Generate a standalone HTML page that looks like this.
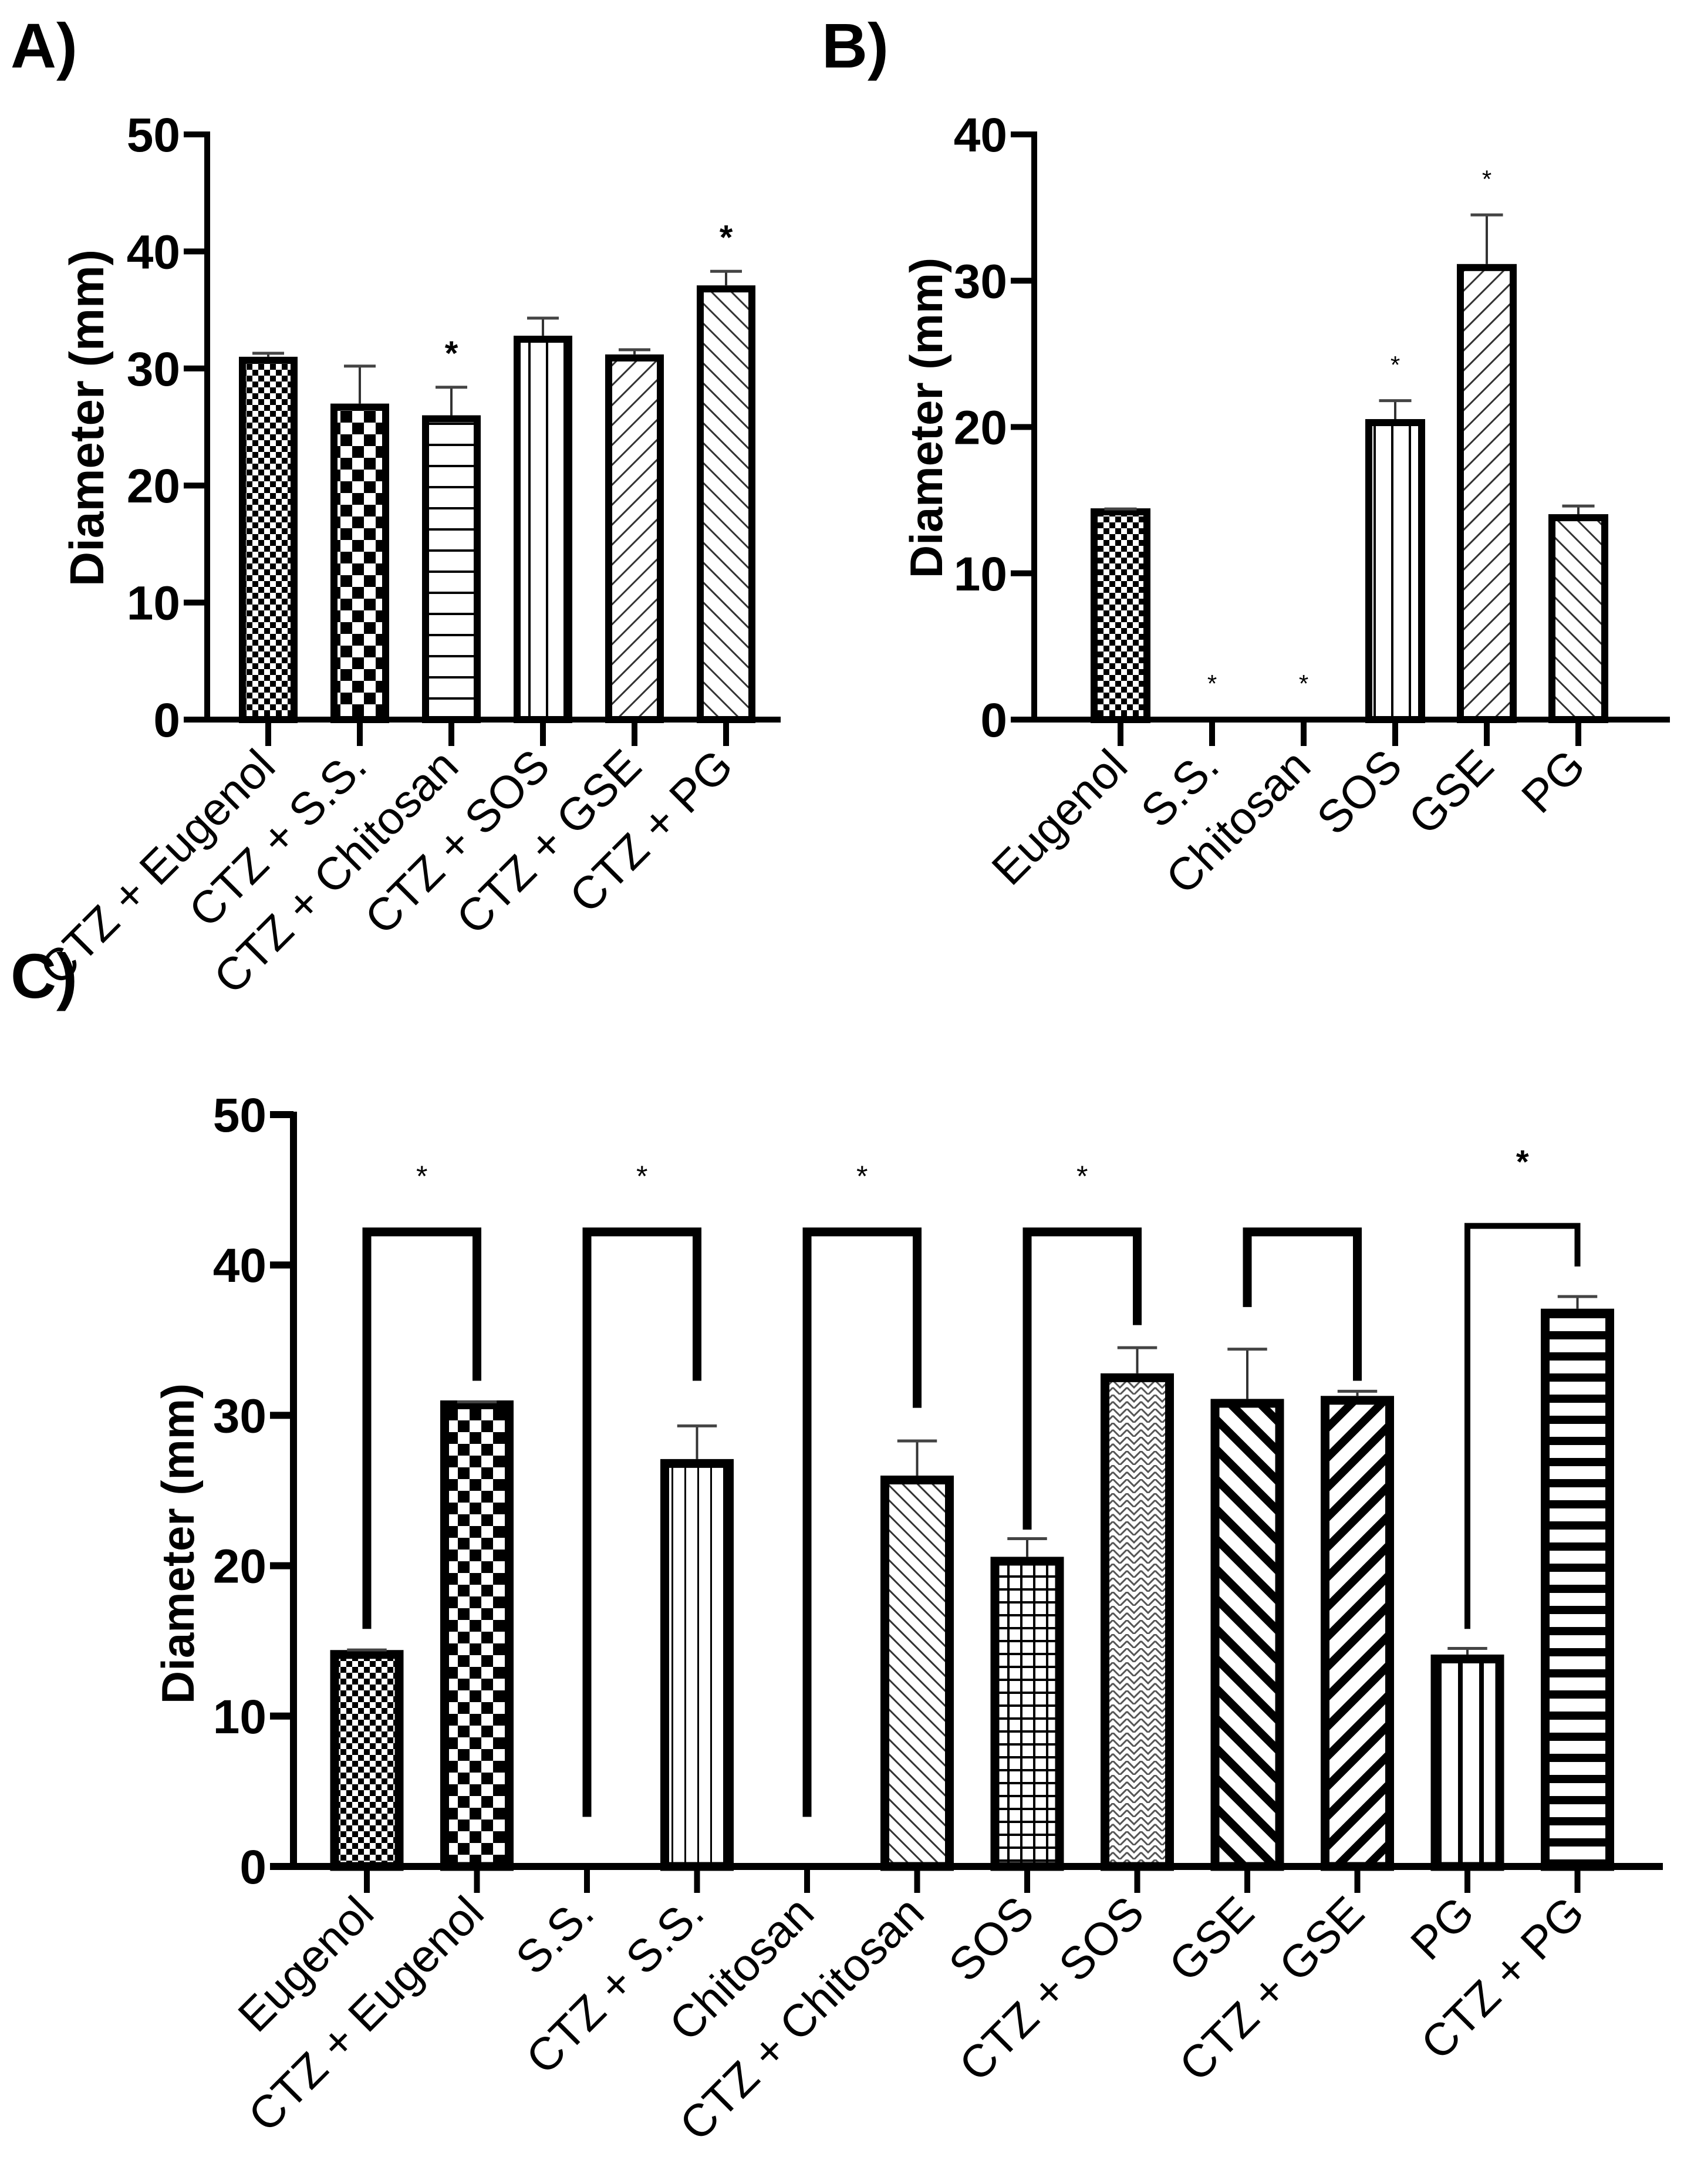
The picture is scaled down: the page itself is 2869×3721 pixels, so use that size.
<!DOCTYPE html>
<html><head><meta charset="utf-8"><style>
html,body{margin:0;padding:0;background:#fff;}
svg{display:block;}
text{font-family:"Liberation Sans",Arial,sans-serif;}
</style></head><body>
<svg id="fig" width="2869" height="3721" viewBox="0 0 2869 3721" xmlns="http://www.w3.org/2000/svg">
<defs>
  <pattern id="pFineCheck" patternUnits="userSpaceOnUse" width="20" height="20"><rect width="20" height="20" fill="#fff"/><rect width="10" height="10" fill="#000"/><rect x="10" y="10" width="10" height="10" fill="#000"/></pattern>
  <pattern id="pCoarseCheck" patternUnits="userSpaceOnUse" width="40" height="40"><rect width="40" height="40" fill="#fff"/><rect width="20" height="20" fill="#000"/><rect x="20" y="20" width="20" height="20" fill="#000"/></pattern>
  <pattern id="pHoriz" patternUnits="userSpaceOnUse" width="20" height="36"><rect width="20" height="36" fill="#fff"/><rect y="0" width="20" height="4" fill="#000"/></pattern>
  <pattern id="pVert" patternUnits="userSpaceOnUse" width="30" height="20"><rect width="30" height="20" fill="#fff"/><rect x="0" width="4" height="20" fill="#000"/></pattern>
  <pattern id="pVertThin" patternUnits="userSpaceOnUse" width="22" height="20"><rect width="22" height="20" fill="#fff"/><rect x="0" width="3" height="20" fill="#000"/></pattern>
  <pattern id="pDiagR" patternUnits="userSpaceOnUse" width="24" height="24" patternTransform="rotate(45)"><rect width="24" height="24" fill="#fff"/><rect width="3" height="24" fill="#333"/></pattern>
  <pattern id="pDiagL" patternUnits="userSpaceOnUse" width="24" height="24" patternTransform="rotate(-45)"><rect width="24" height="24" fill="#fff"/><rect width="3" height="24" fill="#333"/></pattern>
  <pattern id="pDiagLDense" patternUnits="userSpaceOnUse" width="18" height="18" patternTransform="rotate(-45)"><rect width="18" height="18" fill="#fff"/><rect width="3" height="18" fill="#333"/></pattern>
  <pattern id="pGrid" patternUnits="userSpaceOnUse" width="22" height="22"><rect width="22" height="22" fill="#fff"/><rect width="4" height="22" fill="#000"/><rect width="22" height="4" fill="#000"/></pattern>
  <pattern id="pZig" patternUnits="userSpaceOnUse" width="24" height="24"><rect width="24" height="24" fill="#fff"/><path d="M0 0 L12 12 L24 0 M0 12 L12 24 L24 12" stroke="#555" stroke-width="3" fill="none"/></pattern>
  <pattern id="pThickL" patternUnits="userSpaceOnUse" width="36" height="36" patternTransform="rotate(-45)"><rect width="36" height="36" fill="#fff"/><rect width="14" height="36" fill="#000"/></pattern>
  <pattern id="pThickR" patternUnits="userSpaceOnUse" width="36" height="36" patternTransform="rotate(45)"><rect width="36" height="36" fill="#fff"/><rect width="14" height="36" fill="#000"/></pattern>
  <pattern id="pVertThick" patternUnits="userSpaceOnUse" width="36" height="20"><rect width="36" height="20" fill="#fff"/><rect x="0" width="8" height="20" fill="#000"/></pattern>
  <pattern id="pHorizThick" patternUnits="userSpaceOnUse" width="20" height="36"><rect width="20" height="36" fill="#fff"/><rect y="0" width="20" height="14" fill="#000"/></pattern>
</defs>
<g id="root"></g>
</svg>
<script>
// ---- Panel A data ----
const catsA = ["CTZ + Eugenol","CTZ + S.S.","CTZ + Chitosan","CTZ + SOS","CTZ + GSE","CTZ + PG"];
const valsA = [30.7, 26.7, 25.7, 32.5, 30.9, 36.8];
const errA = [31.3, 30.2, 28.4, 34.3, 31.6, 38.3];
const starA = [false, false, true, false, false, true];
const ticksA = [0,10,20,30,40,50];
// ---- Panel B data ----
const catsB = ["Eugenol","S.S.","Chitosan","SOS","GSE","PG"];
const valsB = [14.2, 0, 0, 20.3, 30.9, 13.8];
const errB = [14.4, 0, 0, 21.8, 34.5, 14.6];
const starB = [false, true, true, true, true, false];
const ticksB = [0,10,20,30,40];
// ---- Panel C data ----
const catsC = ["Eugenol","CTZ + Eugenol","S.S.","CTZ + S.S.","Chitosan","CTZ + Chitosan","SOS","CTZ + SOS","GSE","CTZ + GSE","PG","CTZ + PG"];
const valsC = [14.1, 30.7, 0, 26.8, 0, 25.7, 20.3, 32.5, 30.8, 31.0, 13.8, 36.8];
const errC = [14.4, 30.9, 0, 29.3, 0, 28.3, 21.8, 34.5, 34.4, 31.6, 14.5, 37.9];
const ticksC = [0,10,20,30,40,50];
const bracketLeftC = [15.8, 3.3, 3.3, 22.4, 37.2, 15.8];
const bracketRightC = [32.3, 32.3, 30.5, 36.0, 32.3, 39.9];
const bracketTopC = [42.2, 42.2, 42.2, 42.2, 42.2, 42.6];
const bracketStarC = [true, true, true, true, false, true];

const NS = "http://www.w3.org/2000/svg";
const root = document.getElementById('root');
function mk(tag, attrs, parent){ const e=document.createElementNS(NS,tag); for(const k in attrs) e.setAttribute(k,attrs[k]); (parent||root).appendChild(e); return e; }

function panel(o){
  const g = mk('g',{});
  
  
  const y = v => o.y0 - (v/o.max)*(o.y0-o.yTop);
  const x = i => o.x0c + i*o.step;
  const ya = mk('line',{x1:o.ax,y1:o.yTop-5,x2:o.ax,y2:o.y0+5,stroke:'#000','stroke-width':o.axw},g);
  
  
  o.ticks.forEach(t=>{
    const tl = mk('line',{x1:o.ax-40,y1:y(t),x2:o.ax,y2:y(t),stroke:'#000','stroke-width':o.axw},g);
    
    
    const tt = mk('text',{x:o.ax-46,y:y(t)+29,'text-anchor':'end','font-size':82,'font-weight':'bold'},g);
    tt.textContent = t;
    
    
  });
  o.vals.forEach((v,i)=>{
    const cx = x(i), w=o.bw, sw=o.bsw;
    if(v>0){
      const r = mk('rect',{x:cx-w/2+sw/2,y:y(v),width:w-sw,height:o.y0-y(v),fill:'url(#'+o.pats[i]+')',stroke:'#000','stroke-width':sw},g);
      
      
      if(o.err[i]>v){
        const el = mk('line',{x1:cx,y1:y(o.err[i]),x2:cx,y2:y(v)-sw/2,stroke:'#333','stroke-width':4},g);
        
        
        const ec = mk('line',{x1:cx-w*0.27,y1:y(o.err[i]),x2:cx+w*0.27,y2:y(o.err[i]),stroke:'#444','stroke-width':5},g);
        
        
      }
    }
    const xt = mk('line',{x1:cx,y1:o.y0,x2:cx,y2:o.y0+45,stroke:'#000','stroke-width':10},g);
    
    
    const lx = cx+16, ly = o.y0+84;
    const lt = mk('text',{x:lx,y:ly,'text-anchor':'end','font-size':o.lfs,transform:'rotate(-45 '+lx+' '+ly+')'},g);
    lt.textContent = o.cats[i];
    
    
    if(o.stars && o.stars[i]){
      const sv = Math.max(o.err[i],0)+ (o.starBold?3.0:2.6);
      const st = mk('text',{x:cx,y:y(sv)+ (o.starBold?22:18),'text-anchor':'middle','font-size':o.starBold?58:42,'font-weight':o.starBold?'bold':'normal'},g);
      st.textContent='*';
      
      
    }
  });
  const xa = mk('line',{x1:o.ax-o.axw/2,y1:o.y0,x2:o.xEnd,y2:o.y0,stroke:'#000','stroke-width':o.axw},g);
  
  
  const yt = mk('text',{x:o.ytx,y:o.yty,'text-anchor':'middle','font-size':o.ytfs,'font-weight':'bold',transform:'rotate(-90 '+o.ytx+' '+o.yty+')'},g);
  yt.textContent='Diameter (mm)';
  
  
  const pl = mk('text',{x:o.plx,y:o.ply,'font-size':108,'font-weight':'bold'},g);
  pl.textContent=o.label;
  
  
  return {g,x,y};
}

panel({name:'panel-a-chart',cats:catsA,vals:valsA,err:errA,stars:starA,starBold:true,ticks:ticksA,max:50,
  ax:353,yTop:229,y0:1226,x0c:457,step:156,bw:100,bsw:12,axw:10,xEnd:1330,lfs:78,ytfs:82,
  pats:['pFineCheck','pCoarseCheck','pHoriz','pVert','pDiagR','pDiagL'],ytx:176,yty:712,plx:18,ply:115,label:'A)'});

panel({name:'panel-b-chart',cats:catsB,vals:valsB,err:errB,stars:starB,starBold:false,ticks:ticksB,max:40,
  ax:1762,yTop:229,y0:1226,x0c:1909,step:156,bw:102,bsw:12,axw:10,xEnd:2845,lfs:78,ytfs:78,
  pats:['pFineCheck','pFineCheck','pFineCheck','pVert','pDiagR','pDiagL'],ytx:1605,yty:712,plx:1400,ply:115,label:'B)'});

const pc = panel({name:'panel-c-chart',cats:catsC,vals:valsC,err:errC,stars:null,ticks:ticksC,max:50,
  ax:500,yTop:1899,y0:3180,x0c:625,step:187.5,bw:125,bsw:15,axw:12,xEnd:2833,lfs:78,ytfs:78,
  pats:['pFineCheck','pCoarseCheck','pFineCheck','pVertThin','pFineCheck','pDiagLDense','pGrid','pZig','pThickL','pThickR','pVertThick','pHorizThick'],
  ytx:330,yty:2630,plx:18,ply:1700,label:'C)'});

bracketTopC.forEach((t,k)=>{
  const xl = pc.x(2*k), xr = pc.x(2*k+1);
  const sw = k===5?10:15;
  const p = mk('path',{d:'M'+xl+' '+pc.y(bracketLeftC[k])+' L'+xl+' '+pc.y(t)+' L'+xr+' '+pc.y(t)+' L'+xr+' '+pc.y(bracketRightC[k]),fill:'none',stroke:'#000','stroke-width':sw},pc.g);
  
  
  if(bracketStarC[k]){
    const s = mk('text',{x:(xl+xr)/2,y:pc.y(t)+ (k===5? -90 : -78),'text-anchor':'middle','font-size':k===5?56:50,'font-weight':k===5?'bold':'normal'},pc.g);
    s.textContent='*';
    
    
  }
});
</script>
</body></html>
